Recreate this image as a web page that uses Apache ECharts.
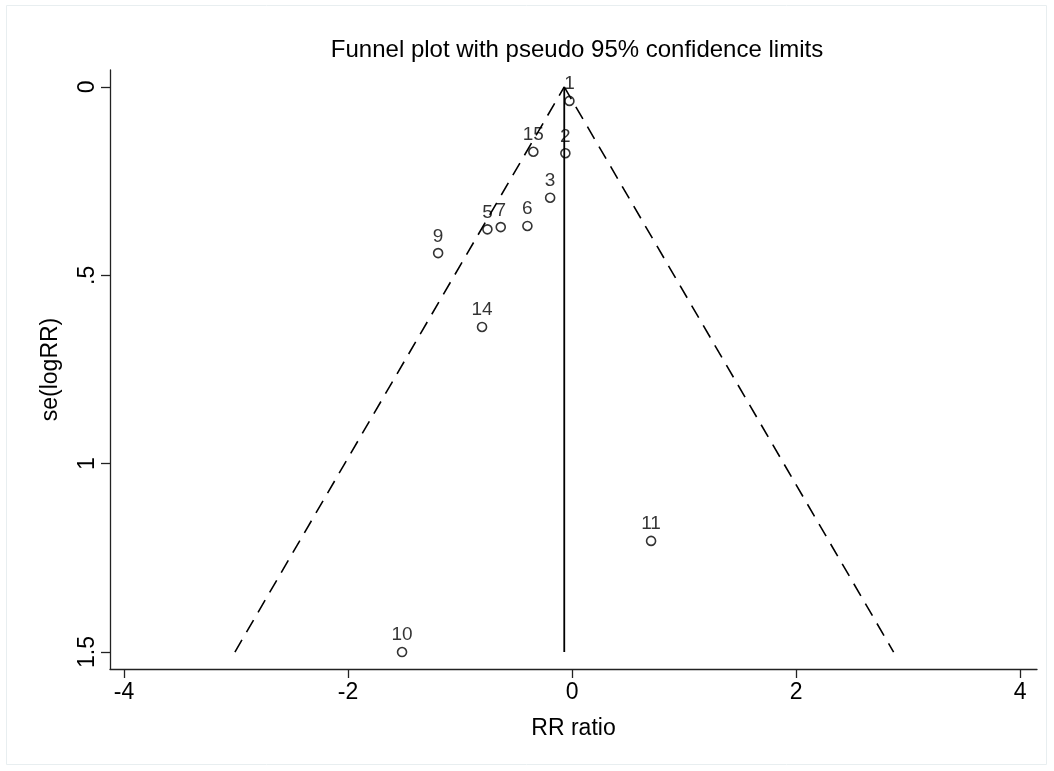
<!DOCTYPE html>
<html>
<head>
<meta charset="utf-8">
<script src="https://cdn.jsdelivr.net/npm/echarts@6/dist/echarts.min.js"></script>
<style>
  html, body { margin: 0; padding: 0; background: #fff; }
  #chart { width: 1054px; height: 771px; }
</style>
</head>
<body>
<div id="chart"></div>
<script>
// Study identifiers, log risk ratios and their standard errors
const studyIds = ['1', '2', '3', '5', '6', '7', '9', '10', '11', '14', '15'];
const logRR    = [-0.024, -0.060, -0.196, -0.756, -0.399, -0.637, -1.196, -1.518, 0.705, -0.804, -0.346];
const seLogRR  = [0.037, 0.176, 0.294, 0.378, 0.369, 0.372, 0.441, 1.500, 1.205, 0.637, 0.172];

// Pooled estimate and the largest standard error shown on the funnel
const pooledLogRR = -0.07;
const seMax = 1.5;

const xTickValues = [-4, -2, 0, 2, 4];
const yTickValues = [0, 0.5, 1, 1.5];
const yTickLabels = ['0', '.5', '1', '1.5'];

const FONT = '"Liberation Sans", Arial, Helvetica, sans-serif';

const points = studyIds.map((id, i) => ({ value: [logRR[i], seLogRR[i]], name: id }));

// Pseudo 95% confidence limits: pooled ± 1.96·se
const lowerLimit = [[pooledLogRR - 1.96 * seMax, seMax], [pooledLogRR, 0]];
const upperLimit = [[pooledLogRR, 0], [pooledLogRR + 1.96 * seMax, seMax]];
const pooledLine = [[pooledLogRR, 0], [pooledLogRR, seMax]];

const chart = echarts.init(document.getElementById('chart'), null, { renderer: 'canvas' });

chart.setOption({
  backgroundColor: '#fff',
  animation: false,
  title: {
    text: 'Funnel plot with pseudo 95% confidence limits',
    left: 572,
    textAlign: 'center',
    top: 33,
    textStyle: { fontFamily: FONT, fontSize: 24, fontWeight: 'normal', color: '#000' }
  },
  graphic: [{
    type: 'rect',
    shape: { x: 6.5, y: 5.5, width: 1040, height: 759 },
    style: { fill: 'none', stroke: '#e8eef0', lineWidth: 1 },
    silent: true
  }],
  grid: { left: 110, right: 17, top: 70, bottom: 102 },
  xAxis: {
    type: 'value',
    min: -4.125,
    max: 4.15,
    name: 'RR ratio',
    nameLocation: 'middle',
    nameGap: 48,
    nameTextStyle: { fontFamily: FONT, fontSize: 23, color: '#000' },
    axisLine: { onZero: false, lineStyle: { color: '#222', width: 1.3 } },
    axisTick: { show: true, length: 9, lineStyle: { color: '#222', width: 1.3 }, customValues: xTickValues },
    axisLabel: { fontFamily: FONT, fontSize: 23, color: '#000', margin: 12, customValues: xTickValues },
    splitLine: { show: false }
  },
  yAxis: {
    type: 'value',
    inverse: true,
    min: -0.045,
    max: 1.545,
    name: 'se(logRR)',
    nameLocation: 'middle',
    nameGap: 48,
    nameRotate: 90,
    nameTextStyle: { fontFamily: FONT, fontSize: 23, color: '#000' },
    axisLine: { show: true, onZero: false, lineStyle: { color: '#222', width: 1.3 } },
    axisTick: { show: true, length: 9, lineStyle: { color: '#222', width: 1.3 }, customValues: yTickValues },
    axisLabel: {
      fontFamily: FONT, fontSize: 23, color: '#000', margin: 11, rotate: 90,
      customValues: yTickValues,
      formatter: v => yTickLabels[yTickValues.indexOf(v)] ?? ''
    },
    splitLine: { show: false }
  },
  series: [
    {
      type: 'scatter',
      data: points,
      z: 2,
      symbol: 'circle',
      symbolSize: 9,
      itemStyle: { color: 'rgba(255,255,255,0)', borderColor: '#000', borderWidth: 1.6 },
      label: {
        show: true,
        position: 'top',
        distance: 2,
        formatter: p => p.name,
        fontFamily: FONT,
        fontSize: 19,
        color: '#000',
        textBorderWidth: 0
      }
    },
    {
      type: 'line', data: lowerLimit, z: 3, symbol: 'none', silent: true,
      lineStyle: { color: '#000', width: 1.6, type: [14, 9] }
    },
    {
      type: 'line', data: upperLimit, z: 3, symbol: 'none', silent: true,
      lineStyle: { color: '#000', width: 1.6, type: [14, 9] }
    },
    {
      type: 'line', data: pooledLine, z: 3, symbol: 'none', silent: true,
      lineStyle: { color: '#000', width: 1.8, type: 'solid' }
    }
  ]
});
</script>
</body>
</html>
